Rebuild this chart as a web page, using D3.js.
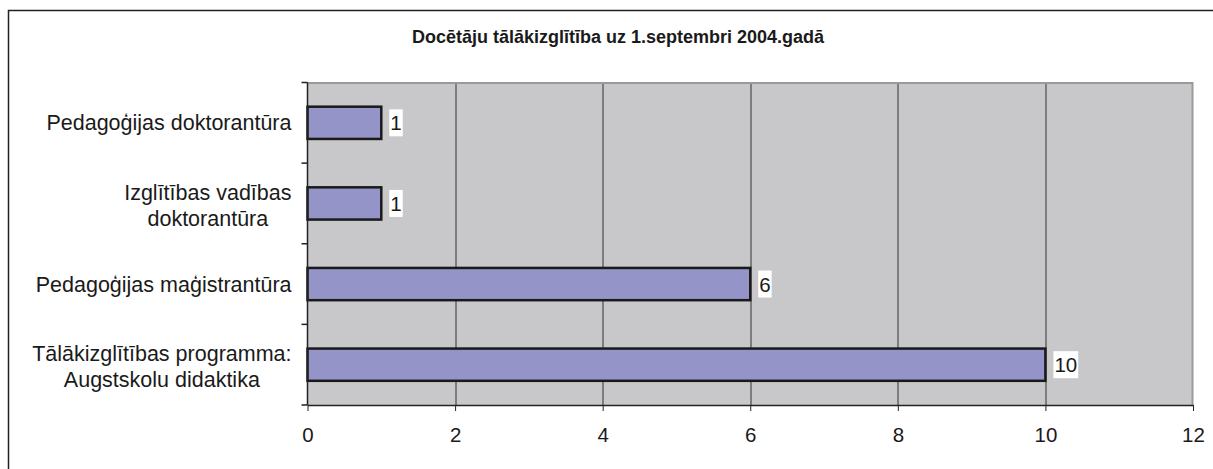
<!DOCTYPE html>
<html>
<head>
<meta charset="utf-8">
<script src="https://cdn.jsdelivr.net/npm/d3@7"></script>
<style>
  body { margin: 0; background: #fff; }
  text { font-family: "Liberation Sans", Arial, sans-serif; fill: #1a1a1a; }
</style>
</head>
<body>
<div id="chart"></div>
<script>
var title = "Docētāju tālākizglītība uz 1.septembri 2004.gadā";

// top to bottom, each label split into its lines
var categories = [
    ["Pedagoģijas doktorantūra"],
    ["Izglītības vadības", "doktorantūra"],
    ["Pedagoģijas maģistrantūra"],
    ["Tālākizglītības programma:", "Augstskolu didaktika"]
];
var values = [1, 1, 6, 10];
var xTicks = [0, 2, 4, 6, 8, 10, 12];

var W = 1213, H = 469;
var margin = {top: 82.5, right: 20, bottom: 64, left: 307.5};
var width = 1193 - margin.left,
    height = H - margin.top - margin.bottom;

var svg = d3.select("#chart").append("svg")
    .attr("width", W)
    .attr("height", H);

// outer chart frame
svg.append("rect")
    .attr("x", 8.5).attr("y", 10.5)
    .attr("width", W).attr("height", H)
    .attr("fill", "none")
    .attr("stroke", "#222")
    .attr("stroke-width", 1.5);

svg.append("text")
    .attr("x", 618).attr("y", 43)
    .attr("text-anchor", "middle")
    .style("font-size", "18px")
    .style("font-weight", "bold")
    .text(title);

var g = svg.append("g")
    .attr("transform", "translate(" + margin.left + "," + margin.top + ")");

var x = d3.scaleLinear().domain([0, 12]).range([0, width]);
var y = d3.scaleBand()
    .domain(d3.range(categories.length))
    .range([0, height])
    .paddingInner(0.6)
    .paddingOuter(0.3);

// plot background
g.append("rect")
    .attr("width", width).attr("height", height)
    .attr("fill", "#c8c8ca");

// gridlines
g.selectAll(".grid")
    .data(xTicks.filter(function(d) { return d > 0 && d < 12; }))
    .enter().append("line")
    .attr("x1", function(d) { return Math.round(x(d)) + 0.5; })
    .attr("x2", function(d) { return Math.round(x(d)) + 0.5; })
    .attr("y1", 0).attr("y2", height)
    .attr("stroke", "#333")
    .attr("stroke-width", 1);

// top and right border
g.append("path")
    .attr("d", "M0,0.5H" + (width - 0.5) + "V" + height)
    .attr("fill", "none")
    .attr("stroke", "#9a9a9a")
    .attr("stroke-width", 2);

// bars
g.selectAll(".bar")
    .data(values)
    .enter().append("rect")
    .attr("class", "bar")
    .attr("x", x(0))
    .attr("y", function(d, i) { return y(i); })
    .attr("width", function(d) { return x(d) - x(0); })
    .attr("height", y.bandwidth())
    .attr("fill", "#9494c8")
    .attr("stroke", "#1a1a1a")
    .attr("stroke-width", 2.5);

// value labels with white boxes
var lab = g.selectAll(".val")
    .data(values)
    .enter().append("g")
    .attr("class", "val")
    .attr("transform", function(d, i) {
        return "translate(" + (x(d) + 8) + "," + (y(i) + y.bandwidth() / 2) + ")";
    });
lab.append("rect")
    .attr("fill", "#fff");
lab.append("text")
    .attr("x", 1)
    .attr("y", 7.5)
    .style("font-size", "20.5px")
    .text(function(d) { return d; });
lab.each(function() {
    var t = d3.select(this).select("text").node().getComputedTextLength();
    d3.select(this).select("rect")
        .attr("x", 0).attr("y", -13.5)
        .attr("width", t + 2).attr("height", 27);
});

// x axis
var xAxis = g.append("g")
    .attr("transform", "translate(0," + height + ")")
    .call(d3.axisBottom(x).tickValues(xTicks).tickSize(6).tickSizeOuter(0));
xAxis.select(".domain").attr("stroke", "#222").attr("stroke-width", 1.5);
xAxis.selectAll(".tick line").attr("stroke", "#222");
xAxis.selectAll(".tick text")
    .attr("y", 30)
    .attr("dy", "0.35em")
    .style("font-size", "20.5px")
    .attr("fill", "#1a1a1a");

// y axis, ticks at band boundaries
g.append("line")
    .attr("x1", 0).attr("x2", 0)
    .attr("y1", 0).attr("y2", height)
    .attr("stroke", "#222").attr("stroke-width", 1.5);
g.selectAll(".ytick")
    .data(d3.range(categories.length + 1))
    .enter().append("line")
    .attr("x1", -6).attr("x2", 0)
    .attr("y1", function(i) { return i * y.step(); })
    .attr("y2", function(i) { return i * y.step(); })
    .attr("stroke", "#222").attr("stroke-width", 1.5);

// category labels, centred lines in a right-aligned block
var cat = g.selectAll(".cat")
    .data(categories)
    .enter().append("text")
    .attr("class", "cat")
    .style("font-size", "21.5px")
    .attr("text-anchor", "middle");
cat.each(function(lines, i) {
    var t = d3.select(this);
    var lh = 26;
    var cy = y(i) + y.bandwidth() / 2 + (lines.length > 1 ? 2 : 0);
    lines.forEach(function(s, k) {
        t.append("tspan")
            .attr("y", cy + 7.5 + (k - (lines.length - 1) / 2) * lh)
            .text(s);
    });
    var maxW = 0;
    t.selectAll("tspan").each(function() {
        maxW = Math.max(maxW, this.getComputedTextLength());
    });
    t.selectAll("tspan").attr("x", -16 - maxW / 2);
});
</script>
</body>
</html>
